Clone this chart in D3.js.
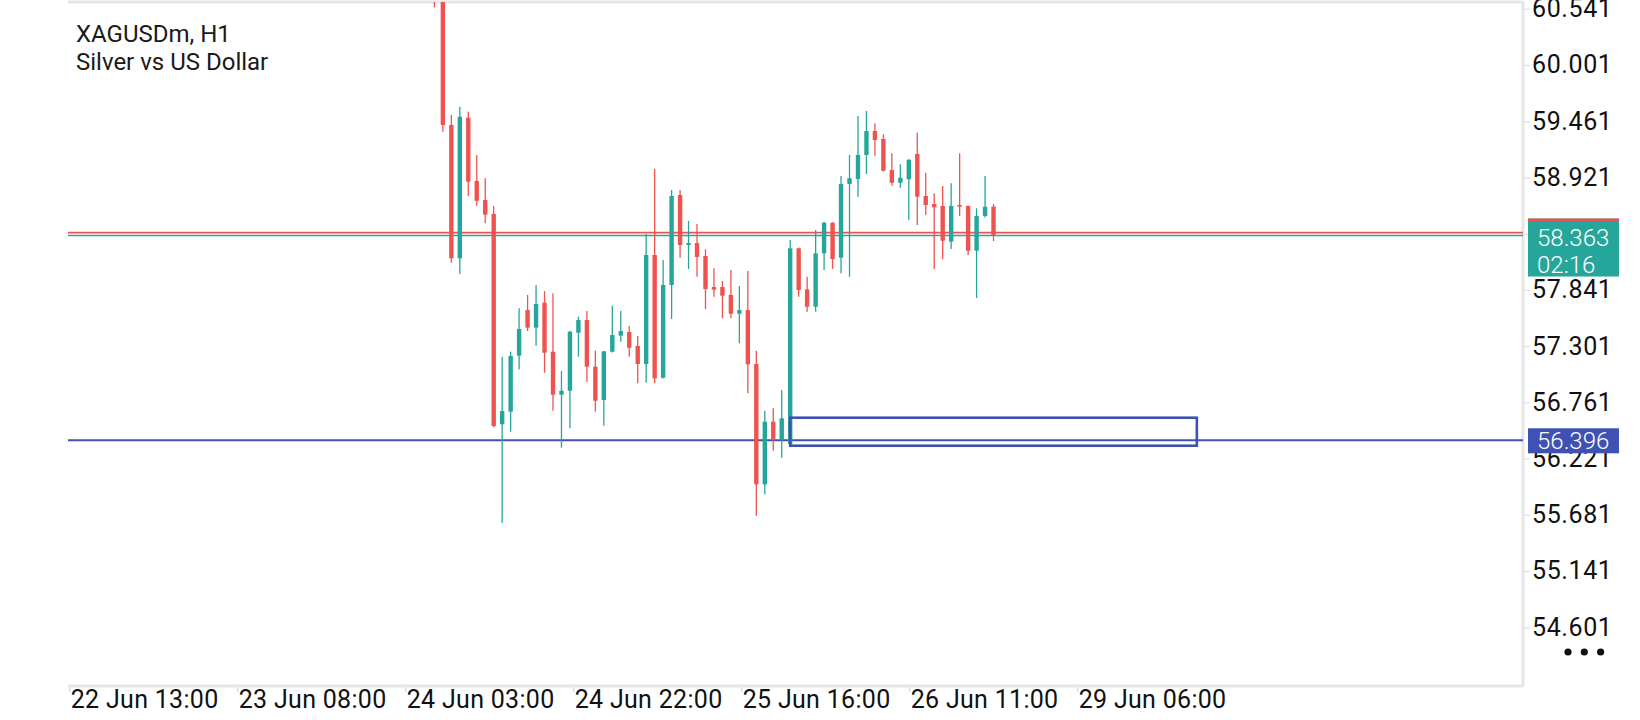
<!DOCTYPE html>
<html><head><meta charset="utf-8">
<script src="https://cdn.jsdelivr.net/npm/d3@7"></script>
<style>
html,body{margin:0;padding:0;background:#fff;}
svg{display:block;font-family:Roboto,"Noto Sans",sans-serif;}
</style></head>
<body>
<svg id="chart" width="1640" height="720"></svg>
<script>
// ---- data ----
const symbolTitle = "XAGUSDm, H1";
const symbolDesc = "Silver vs US Dollar";
const opens  = [60.80,60.65,59.425,58.144,59.495,58.887,58.704,58.570,56.550,56.671,57.209,57.647,57.478,57.718,57.247,56.834,56.872,57.429,57.552,57.103,56.783,57.247,57.401,57.436,57.302,57.129,58.176,56.997,57.888,58.752,58.272,58.291,58.166,57.868,57.868,57.792,57.612,57.647,57.129,55.973,56.575,56.400,56.360,58.240,57.846,57.679,58.192,58.486,58.150,58.858,58.906,59.137,59.367,59.290,58.992,58.870,58.903,59.146,58.743,58.666,58.647,58.304,58.656,58.647,58.217,58.551,58.640];
const highs  = [60.90,60.72,59.521,59.600,59.552,59.137,58.913,58.647,57.199,57.247,57.664,57.792,57.888,57.830,57.808,57.062,57.446,57.583,57.638,57.257,57.257,57.689,57.638,57.494,57.398,58.378,59.002,58.128,58.800,58.800,58.503,58.474,58.231,58.048,57.926,58.032,57.878,58.022,57.257,56.680,56.703,56.879,58.320,58.248,57.967,58.416,58.496,58.490,58.935,59.137,59.511,59.559,59.441,59.335,59.153,59.047,59.098,59.351,58.966,58.769,58.839,58.865,59.153,58.650,58.624,58.935,58.666];
const lows   = [60.555,59.360,58.102,57.993,58.743,58.649,58.480,56.521,55.601,56.478,57.078,57.446,57.305,57.045,56.680,56.325,56.511,57.199,56.959,56.671,56.536,57.240,57.343,57.199,56.943,56.949,56.945,56.990,57.561,58.150,58.041,57.967,57.657,57.775,57.568,57.568,57.328,56.847,55.672,55.877,56.296,56.229,56.335,57.775,57.631,57.631,58.032,58.041,58.000,57.967,58.736,58.954,59.130,58.976,58.842,58.822,58.512,58.464,58.560,58.041,58.137,58.234,58.551,58.176,57.763,58.535,58.310];
const closes = [60.65,59.425,58.144,59.504,58.880,58.697,58.563,56.533,56.677,57.206,57.465,57.478,57.705,57.237,56.834,56.872,57.439,57.552,57.103,56.776,57.250,57.407,57.446,57.285,57.129,58.176,56.991,57.888,58.743,58.272,58.291,58.157,57.849,57.843,57.785,57.612,57.647,57.126,55.973,56.575,56.399,56.607,58.240,57.840,57.679,58.192,58.486,58.137,58.858,58.913,59.137,59.367,59.281,58.986,58.870,58.918,59.090,58.736,58.656,58.634,58.313,58.647,58.640,58.217,58.551,58.640,58.363];
const priceTicks = [60.541,60.001,59.461,58.921,58.381,57.841,57.301,56.761,56.221,55.681,55.141,54.601];
const timeTickBars = [-43.1,-23.27,-3.44,16.39,36.22,56.05,75.88];
const timeTickLabels = ["22 Jun 13:00","23 Jun 08:00","24 Jun 03:00","24 Jun 22:00","25 Jun 16:00","26 Jun 11:00","29 Jun 06:00"];
const bidPrice = 58.363;
const askPrice = 58.391;
const timerText = "02:16";
const levelPrice = 56.396;
const zoneTop = 56.613, zoneBottom = 56.344;
const zoneStartBar = 42, zoneEndBar = 90;

// ---- layout ----
const plot = {left:68, right:1523, top:2, bottom:686};
const bull = "#26a69a", bear = "#ef5350", blue = "#3f51b5", grid = "#e6e6e6";

const svg = d3.select("#chart");
const x = d3.scaleLinear().domain([-43.25, 128.5]).range([plot.left, plot.right]);
const y = d3.scaleLinear().domain([54.036, 60.606]).range([plot.bottom, plot.top]);

svg.append("defs").append("clipPath").attr("id","clip")
  .append("rect").attr("x",plot.left).attr("y",plot.top)
  .attr("width",plot.right-plot.left).attr("height",plot.bottom-plot.top);

// frame
svg.append("line").attr("x1",plot.left).attr("x2",plot.right+1).attr("y1",plot.top).attr("y2",plot.top)
  .attr("stroke",grid).attr("stroke-width",3);
svg.append("line").attr("x1",plot.right).attr("x2",plot.right).attr("y1",plot.top).attr("y2",plot.bottom)
  .attr("stroke",grid).attr("stroke-width",3);
svg.append("line").attr("x1",plot.left).attr("x2",plot.right+1).attr("y1",plot.bottom).attr("y2",plot.bottom)
  .attr("stroke",grid).attr("stroke-width",3);

// title
svg.append("text").attr("x",76).attr("y",42).attr("font-size",24).attr("fill","#1a1a1a").text(symbolTitle);
svg.append("text").attr("x",76).attr("y",70).attr("font-size",24).attr("fill","#1a1a1a").text(symbolDesc);

const g = svg.append("g").attr("clip-path","url(#clip)");

// price lines
g.append("line").attr("x1",plot.left).attr("x2",plot.right).attr("y1",y(askPrice)).attr("y2",y(askPrice))
  .attr("stroke",bear).attr("stroke-width",1.6);
g.append("line").attr("x1",plot.left).attr("x2",plot.right).attr("y1",y(bidPrice)).attr("y2",y(bidPrice))
  .attr("stroke",bull).attr("stroke-width",1.6);
g.append("line").attr("x1",plot.left).attr("x2",plot.right).attr("y1",y(levelPrice)).attr("y2",y(levelPrice))
  .attr("stroke",blue).attr("stroke-width",2);

// candles
const candles = opens.map((o,i)=>({i,o,h:highs[i],l:lows[i],c:closes[i]}));
const bw = 4.4;
const cg = g.selectAll("g.c").data(candles).join("g").attr("class","c");
cg.append("line")
  .attr("x1",d=>x(d.i)).attr("x2",d=>x(d.i))
  .attr("y1",d=>y(d.h)).attr("y2",d=>y(d.l))
  .attr("stroke",d=>d.c>=d.o?bull:bear).attr("stroke-width",1.3);
cg.append("rect")
  .attr("x",d=>x(d.i)-bw/2).attr("width",bw)
  .attr("y",d=>y(Math.max(d.o,d.c)))
  .attr("height",d=>Math.max(1.5, Math.abs(y(d.o)-y(d.c))))
  .attr("fill",d=>d.c>=d.o?bull:bear);

// zone rectangle
g.append("rect")
  .attr("x",x(zoneStartBar)).attr("y",y(zoneTop))
  .attr("width",x(zoneEndBar)-x(zoneStartBar)).attr("height",y(zoneBottom)-y(zoneTop))
  .attr("fill","none").attr("stroke",blue).attr("stroke-width",2.6);

// y axis
const yAxis = d3.axisRight(y).tickValues(priceTicks).tickSize(6).tickPadding(3).tickFormat(d3.format(".3f"));
const ya = svg.append("g").attr("transform",`translate(${plot.right+1},0)`).call(yAxis);
ya.select(".domain").remove();
ya.selectAll(".tick line").attr("stroke",grid).attr("stroke-width",1.5);
ya.selectAll(".tick text").attr("font-size",25).attr("fill","#111").attr("font-family","Roboto").attr("x",8)
  .attr("letter-spacing","0.6px");

// x axis
const xAxis = d3.axisBottom(x).tickValues(timeTickBars).tickSize(6).tickFormat((d,i)=>timeTickLabels[i]);
const xa = svg.append("g").attr("transform",`translate(0,${plot.bottom})`).call(xAxis);
xa.select(".domain").remove();
xa.selectAll(".tick line").attr("stroke",grid).attr("stroke-width",2);
xa.selectAll(".tick text").attr("font-size",25).attr("fill","#111").attr("font-family","Roboto")
  .attr("text-anchor","start").attr("x",1).attr("y",4).attr("dy","0.71em").attr("letter-spacing","0.3px");

// bid badge
const bx = plot.right+5, bwid = 91;
svg.append("rect").attr("x",bx).attr("y",y(bidPrice)-17).attr("width",bwid).attr("height",58).attr("fill",bull);
svg.append("rect").attr("x",bx).attr("y",y(bidPrice)-17).attr("width",bwid).attr("height",2.5).attr("fill",bear);
svg.append("text").attr("x",bx+9).attr("y",y(bidPrice)+10).attr("font-size",24).attr("fill","#fff")
  .attr("font-weight",300).text(d3.format(".3f")(bidPrice));
svg.append("text").attr("x",bx+9).attr("y",y(bidPrice)+37).attr("font-size",24).attr("fill","#fff")
  .attr("font-weight",300).text(timerText);

// level badge
svg.append("rect").attr("x",bx).attr("y",y(levelPrice)-12).attr("width",bwid).attr("height",25).attr("fill",blue);
svg.append("text").attr("x",bx+9).attr("y",y(levelPrice)+9).attr("font-size",24).attr("fill","#fff")
  .attr("font-weight",300).text(d3.format(".3f")(levelPrice));

// menu dots
svg.selectAll("circle.dot").data([0,1,2]).join("circle").attr("class","dot")
  .attr("cx",d=>1568+d*16.3).attr("cy",652).attr("r",3.6).attr("fill","#111");
</script>
</body></html>
